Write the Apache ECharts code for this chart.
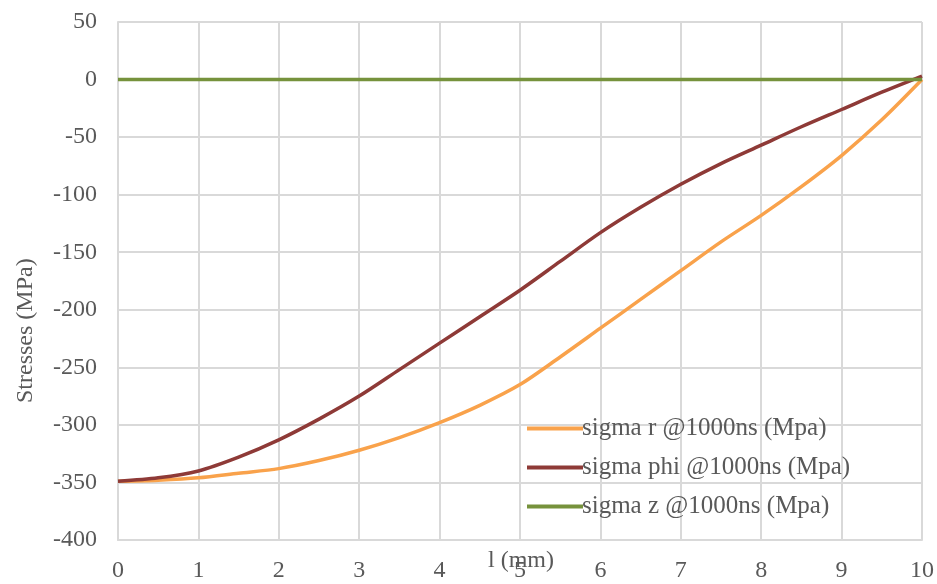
<!DOCTYPE html>
<html>
<head>
<meta charset="utf-8">
<script src="https://cdn.jsdelivr.net/npm/echarts@6/dist/echarts.min.js"></script>
<style>
html, body { margin: 0; padding: 0; background: #fff; }
#chart { width: 937px; height: 584px; }
</style>
</head>
<body>
<div id="chart"></div>
<script>
var xPos = [0, 0.5, 1, 1.5, 2, 2.5, 3, 3.5, 4, 4.5, 5, 5.5, 6, 6.5, 7, 7.5, 8, 8.5, 9, 9.5, 10];
var sigmaR = [-349, -348, -346, -342, -338, -331, -322, -311, -298, -283, -265, -241, -216, -191, -166, -141, -118, -93, -66, -35, 0];
var sigmaPhi = [-349, -346, -340, -328, -313, -295, -275, -252, -229, -206, -183, -158, -133, -111, -91, -73, -57, -41, -26, -11, 3];
var sigmaZ = [0, 0, 0, 0, 0, 0, 0, 0, 0, 0, 0, 0, 0, 0, 0, 0, 0, 0, 0, 0, 0];
var seriesNames = ['sigma r @1000ns (Mpa)', 'sigma phi @1000ns (Mpa)', 'sigma z @1000ns (Mpa)'];
var seriesColors = ['#F9A24B', '#8E3A37', '#76923C'];

function pairs(vals) {
    return xPos.map(function (x, i) { return [x, vals[i]]; });
}

var font = '"Liberation Serif", "DejaVu Serif", serif';
var textColor = '#595959';
var chart = echarts.init(document.getElementById('chart'));
var option = {
    animation: false,
    grid: { left: 118, right: 15, top: 22, bottom: 44 },
    legend: {
        orient: 'vertical',
        left: 522,
        top: 411,
        itemWidth: 56,
        itemHeight: 4,
        itemGap: 14,
        icon: 'rect',
        textStyle: { fontFamily: font, fontSize: 25, color: textColor, padding: [0, 0, 0, -6] },
        data: seriesNames
    },
    xAxis: {
        type: 'value',
        min: 0,
        max: 10,
        interval: 1,
        axisLine: { show: true, onZero: false, lineStyle: { color: '#d9d9d9', width: 2 } },
        axisTick: { show: false },
        axisLabel: { fontFamily: font, fontSize: 24, color: textColor, margin: 19 },
        splitLine: { show: true, lineStyle: { color: '#d9d9d9', width: 2 } }
    },
    yAxis: {
        type: 'value',
        min: -400,
        max: 50,
        interval: 50,
        axisLine: { show: true, lineStyle: { color: '#d9d9d9', width: 2 } },
        axisTick: { show: false },
        axisLabel: { fontFamily: font, fontSize: 24, color: textColor, margin: 21 },
        splitLine: { show: true, lineStyle: { color: '#d9d9d9', width: 2 } }
    },
    graphic: [
        {
            type: 'text',
            left: 488,
            top: 549,
            style: { text: 'l (mm)', font: '24px ' + font, fill: textColor }
        },
        {
            type: 'text',
            x: 14,
            y: 403,
            rotation: Math.PI / 2,
            style: { text: 'Stresses (MPa)', font: '24px ' + font, fill: textColor }
        }
    ],
    series: [
        { name: seriesNames[0], type: 'line', data: pairs(sigmaR), smooth: 0.3, showSymbol: false, lineStyle: { width: 3.5, color: seriesColors[0] }, itemStyle: { color: seriesColors[0] } },
        { name: seriesNames[1], type: 'line', data: pairs(sigmaPhi), smooth: 0.3, showSymbol: false, lineStyle: { width: 3.5, color: seriesColors[1] }, itemStyle: { color: seriesColors[1] } },
        { name: seriesNames[2], type: 'line', data: pairs(sigmaZ), showSymbol: false, lineStyle: { width: 3.5, color: seriesColors[2] }, itemStyle: { color: seriesColors[2] } }
    ]
};
chart.setOption(option);
</script>
</body>
</html>
